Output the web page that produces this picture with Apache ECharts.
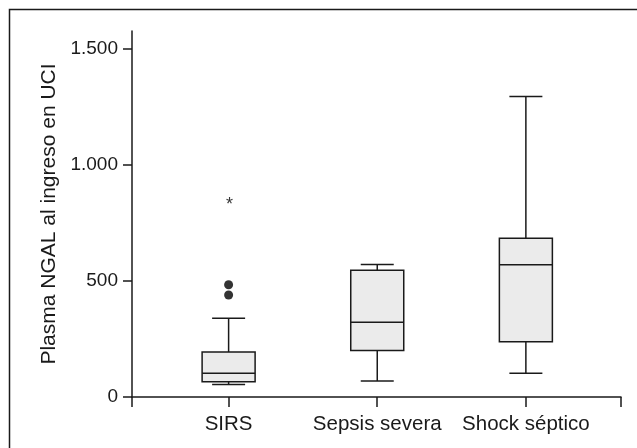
<!DOCTYPE html>
<html>
<head>
<meta charset="utf-8">
<script src="https://cdn.jsdelivr.net/npm/echarts@6/dist/echarts.min.js"></script>
<style>html,body{margin:0;padding:0;background:#fff;}#c{width:637px;height:448px;}</style>
</head>
<body>
<div id="c"></div>
<script>
const categories = ['SIRS', 'Sepsis severa', 'Shock séptico'];
const lowWhisker = [54, 69, 102];
const q1 = [66, 200, 238];
const median = [102, 322, 570];
const q3 = [194, 546, 684];
const highWhisker = [340, 571, 1296];
const outlierDots = [[0, 484], [0, 440]];
const extremeValues = [[0, 850]];
const yTicks = [0, 500, 1000, 1500];
const yTickLabels = ['0', '500', '1.000', '1.500'];
const yAxisTitle = 'Plasma NGAL al ingreso en UCI';

const FONT = '"Liberation Sans", Arial, Helvetica, sans-serif';
const INK = '#1a1a1a';
const xMin = 0.35, xMax = 3.64;

const boxData = categories.map((c, i) => [i + 1, lowWhisker[i], q1[i], median[i], q3[i], highWhisker[i]]);

const chart = echarts.init(document.getElementById('c'), null, {renderer: 'canvas'});
chart.setOption({
  animation: false,
  backgroundColor: '#fff',
  graphic: [{
    type: 'rect', shape: {x: 9.5, y: 9.5, width: 700, height: 500},
    style: {fill: 'none', stroke: INK, lineWidth: 1.5}, silent: true
  }],
  grid: {left: 132, right: 16, top: 31, bottom: 51},
  xAxis: {
    type: 'value', min: xMin, max: xMax,
    axisLine: {show: true, lineStyle: {color: INK, width: 1.5}},
    axisTick: {show: true, length: 10, lineStyle: {color: INK, width: 1.5},
      customValues: [xMin, 1, 2, 3, xMax]},
    axisLabel: {customValues: [1, 2, 3], color: INK, fontFamily: FONT, fontSize: 20.5, margin: 17,
      formatter: v => categories[Math.round(v) - 1] || ''},
    splitLine: {show: false}
  },
  yAxis: {
    type: 'value', min: 0, max: 1578,
    name: yAxisTitle, nameLocation: 'middle', nameRotate: 90, nameGap: 72,
    nameTextStyle: {color: INK, fontFamily: FONT, fontSize: 21},
    axisLine: {show: true, lineStyle: {color: INK, width: 1.5}},
    axisTick: {show: true, length: 9, lineStyle: {color: INK, width: 1.5}, customValues: yTicks},
    axisLabel: {customValues: yTicks, color: INK, fontFamily: FONT, fontSize: 19, margin: 14,
      formatter: v => yTickLabels[yTicks.indexOf(v)]},
    splitLine: {show: false}
  },
  series: [{
    type: 'custom',
    data: boxData,
    renderItem: function (params, api) {
      const x = api.value(0);
      const pLow = api.coord([x, api.value(1)]);
      const pQ1 = api.coord([x, api.value(2)]);
      const pMed = api.coord([x, api.value(3)]);
      const pQ3 = api.coord([x, api.value(4)]);
      const pHigh = api.coord([x, api.value(5)]);
      const hw = 26.5, cw = 16.5;
      const cx = pQ1[0];
      const ls = {stroke: INK, lineWidth: 1.5};
      return {
        type: 'group',
        children: [
          {type: 'line', shape: {x1: cx, y1: pQ3[1], x2: cx, y2: pHigh[1]}, style: ls},
          {type: 'line', shape: {x1: cx, y1: pQ1[1], x2: cx, y2: pLow[1]}, style: ls},
          {type: 'line', shape: {x1: cx - cw, y1: pHigh[1], x2: cx + cw, y2: pHigh[1]}, style: ls},
          {type: 'line', shape: {x1: cx - cw, y1: pLow[1], x2: cx + cw, y2: pLow[1]}, style: ls},
          {type: 'rect', shape: {x: cx - hw, y: pQ3[1], width: 2 * hw, height: pQ1[1] - pQ3[1]},
            style: {fill: '#ebebeb', stroke: INK, lineWidth: 1.5}},
          {type: 'line', shape: {x1: cx - hw, y1: pMed[1], x2: cx + hw, y2: pMed[1]}, style: ls}
        ]
      };
    }
  }, {
    type: 'scatter',
    data: outlierDots.map(d => [d[0] + 1, d[1]]),
    symbol: 'circle', symbolSize: 9,
    itemStyle: {color: '#000'}
  }, {
    type: 'scatter',
    data: extremeValues.map(d => [d[0] + 1, d[1]]),
    symbol: 'circle', symbolSize: 1,
    itemStyle: {color: 'rgba(0,0,0,0)'},
    label: {show: true, position: 'inside', formatter: '*', color: '#000',
      fontFamily: FONT, fontSize: 18, offset: [1, 5]}
  }]
});
</script>
</body>
</html>
